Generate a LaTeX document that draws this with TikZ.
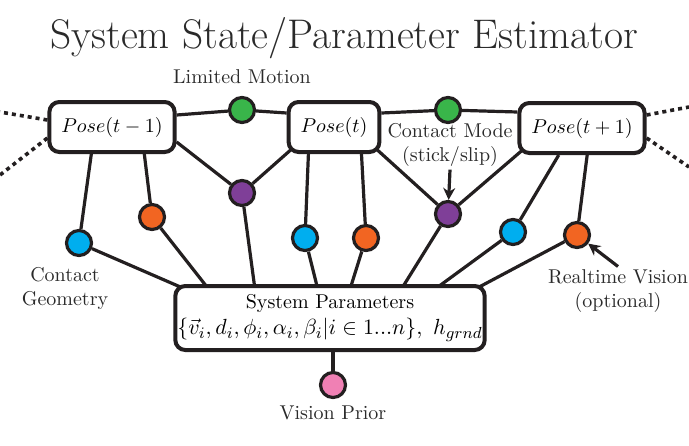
\documentclass[tikz,border=0pt]{standalone}
\usepackage{amsmath}
\usetikzlibrary{positioning,arrows.meta,calc,backgrounds}
\definecolor{EdgeBlack}{HTML}{231F20}
\definecolor{LabelGray}{HTML}{2A2A2A}
\definecolor{MotionGreen}{HTML}{39B54A}
\definecolor{GeomBlue}{HTML}{00AEEF}
\definecolor{VisionOrange}{HTML}{F26522}
\definecolor{ModePurple}{HTML}{7F3F98}
\definecolor{PriorPink}{HTML}{F080B4}

\begin{document}
\begin{tikzpicture}[
        x=0.5pt, y=-0.5pt,
        pose/.style={
            draw=EdgeBlack,
            fill=white,
            line width=2pt,
            rounded corners=5pt,
            minimum height=25pt,
            inner xsep=6pt
        },
        factor/.style={circle, draw=EdgeBlack, line width=1.6pt, minimum size=12.5pt, inner sep=0pt},
        lbl/.style={text=LabelGray, align=center},
        link/.style={draw=EdgeBlack, line width=1.6pt},
        dotline/.style={draw=EdgeBlack, line width=1.8pt, dash pattern=on 2pt off 2pt},
        arr/.style={-{Stealth[length=6pt,width=6pt]}, line width=1.6pt, EdgeBlack}
    ]
        \useasboundingbox (0,0) rectangle (689,445);
        \node[lbl, font=\fontsize{20.7}{24}\selectfont] (title) at (344,38) {System State/Parameter Estimator};

        % pose nodes
        \node[pose, minimum width=60pt] (pose1) at (112,127) {$Pose(t-1)$};
        \node[pose, minimum width=41pt] (pose2) at (334,127) {$Pose(t)$};
        \node[pose, minimum width=60pt] (pose3) at (582,128) {$Pose(t+1)$};

        % system parameters
        \node[pose, minimum width=154pt, minimum height=32pt, inner sep=1pt, align=center] (sys) at (330,318)
            {System Parameters\\[1pt] \fontsize{11}{13}\selectfont $\{\vec{v}_i, d_i, \phi_i, \alpha_i, \beta_i | i \in 1...n\},\ h_{grnd}$};

        % factors
        \node[factor, fill=MotionGreen] (green1) at (242,110) {};
        \node[factor, fill=MotionGreen] (green2) at (448,110) {};
        \node[factor, fill=ModePurple] (purple1) at (242,193) {};
        \node[factor, fill=ModePurple] (purple2) at (448,214) {};
        \node[factor, fill=GeomBlue] (blue1) at (79,243) {};
        \node[factor, fill=VisionOrange] (orange1) at (152,217) {};
        \node[factor, fill=GeomBlue] (blue2) at (305,238) {};
        \node[factor, fill=VisionOrange] (orange2) at (366,238) {};
        \node[factor, fill=GeomBlue] (blue3) at (513,232) {};
        \node[factor, fill=VisionOrange] (orange3) at (577,235) {};
        \node[factor, fill=PriorPink] (pink) at (333,385) {};

        % labels
        \node[lbl] (motion) at (242,77) {Limited Motion};
        \node[lbl] (mode) at (450,145) {Contact Mode\\(stick/slip)};
        \node[lbl] (geom) at (65,288) {Contact\\Geometry};
        \node[lbl] (rtv) at (618,291) {Realtime Vision\\(optional)};
        \node[lbl] (prior) at (333,413) {Vision Prior};

        \coordinate (lt) at (0,112);
        \coordinate (lb) at (0,175);
        \coordinate (rt) at (689,107);
        \coordinate (rb) at (689,167);

        \begin{scope}[on background layer]
            \draw[link] (green1) -- ([yshift=6pt]pose1.east);
            \draw[link] (green1) -- ([yshift=7pt]pose2.west);
            \draw[link] (green2) -- ([yshift=7pt]pose2.east);
            \draw[link] (green2) -- ([yshift=8pt]pose3.west);
            \draw[link] (purple1) -- ([yshift=-7.5pt]pose1.east);
            \draw[link] (purple1) -- ([shift={(2pt,2pt)}]pose2.south west);
            \draw[link] (purple2) -- ([shift={(-2pt,2pt)}]pose2.south east);
            \draw[link] (purple2) -- ([shift={(2pt,2pt)}]pose3.south west);
            \draw[link] ($(pose1.south west)!0.34!(pose1.south east)$) -- (blue1);
            \draw[link] ($(pose1.south west)!0.75!(pose1.south east)$) -- (orange1);
            \draw[link] ($(pose2.south west)!0.23!(pose2.south east)$) -- (blue2);
            \draw[link] ($(pose2.south west)!0.79!(pose2.south east)$) -- (orange2);
            \draw[link] ($(pose3.south west)!0.32!(pose3.south east)$) -- (blue3);
            \draw[link] ($(pose3.south west)!0.54!(pose3.south east)$) -- (orange3);
            \foreach \f/\p in {blue1/0.03, orange1/0.11, purple1/0.26, blue2/0.46, orange2/0.565, purple2/0.73, blue3/0.84, orange3/0.97}
                \draw[link] (\f) -- ([yshift=-2pt]$(sys.north west)!\p!(sys.north east)$);
            \draw[link] (pink) -- (pink |- sys.center);
        \end{scope}

        \draw[dotline] ([yshift=3.5pt]pose1.west) -- (lt);
        \draw[dotline] ([yshift=-5.5pt]pose1.west) -- (lb);
        \draw[dotline] ([yshift=6.5pt]pose3.east) -- (rt);
        \draw[dotline] ([yshift=-5pt]pose3.east) -- (rb);

        \draw[arr] ([yshift=2pt]mode.south) -- (purple2);
        \draw[arr] ([yshift=-2pt]rtv.north) -- (orange3);
    \end{tikzpicture}
\end{document}
